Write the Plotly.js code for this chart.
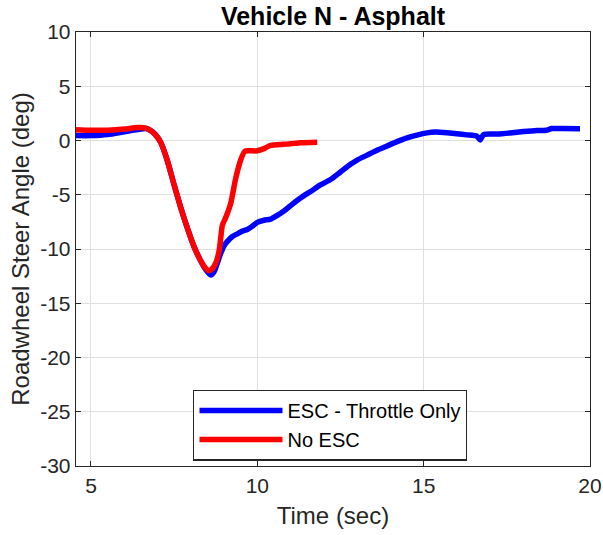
<!DOCTYPE html>
<html>
<head>
<meta charset="utf-8">
<script src="https://cdn.plot.ly/plotly-3.0.1.min.js"></script>
<style>html,body{margin:0;padding:0;background:#fff;}#chart{width:603px;height:535px;}</style>
</head>
<body>
<div id="chart"></div>
<script>
const escTime = [4.55,5.0,5.5,6.0,6.4,6.65,6.85,7.0,7.1,7.3,7.5,7.7,7.9,8.1,8.3,8.45,8.6,8.7,8.8,8.9,9.0,9.1,9.25,9.4,9.55,9.7,9.85,10.0,10.2,10.4,10.6,10.8,11.0,11.3,11.6,11.9,12.2,12.5,12.8,13.0,13.3,13.6,13.9,14.2,14.5,14.8,15.1,15.35,15.7,16.0,16.3,16.6,16.7,16.8,17.2,17.6,18.0,18.4,18.7,18.85,19.2,19.7];
const escAngle = [0.45,0.45,0.55,0.8,1.0,1.1,0.8,0.3,-0.2,-1.9,-4.1,-6.2,-8.1,-9.8,-11.1,-11.9,-12.4,-12.1,-11.3,-10.4,-9.7,-9.3,-8.85,-8.6,-8.35,-8.2,-7.9,-7.55,-7.35,-7.25,-6.9,-6.5,-6.0,-5.3,-4.7,-4.1,-3.6,-2.9,-2.2,-1.8,-1.35,-0.9,-0.5,-0.1,0.25,0.5,0.7,0.78,0.72,0.62,0.52,0.4,0.05,0.55,0.6,0.7,0.82,0.92,0.95,1.1,1.1,1.08];
const noEscTime = [4.55,5.0,5.5,6.0,6.4,6.65,6.85,7.0,7.1,7.3,7.5,7.7,7.9,8.1,8.3,8.45,8.55,8.65,8.75,8.85,8.9,8.95,9.05,9.2,9.35,9.5,9.62,9.75,10.0,10.2,10.4,10.8,11.0,11.3,11.8];
const noEscAngle = [1.0,0.95,0.95,1.05,1.2,1.15,0.8,0.3,-0.2,-1.9,-4.1,-6.2,-8.1,-9.8,-11.1,-11.8,-12.0,-11.8,-11.3,-10.2,-9.0,-7.8,-7.1,-5.8,-3.5,-1.8,-1.0,-0.95,-0.95,-0.75,-0.45,-0.35,-0.3,-0.2,-0.15];
const seriesNames = ["ESC - Throttle Only","No ESC"];
const xTicks = [5,10,15,20];
const yTicks = [10,5,0,-5,-10,-15,-20,-25,-30];

const font = "Liberation Sans, Arial, Helvetica, sans-serif";
const traces = [
  {x: escTime, y: escAngle, name: seriesNames[0], mode: "lines", line: {color: "#0000ff", width: 5.5, shape: "spline", smoothing: 0.6}},
  {x: noEscTime, y: noEscAngle, name: seriesNames[1], mode: "lines", line: {color: "#ff0000", width: 5.5, shape: "spline", smoothing: 0.6}}
];
const axisCommon = {
  showline: true, mirror: "ticks", linecolor: "#262626", linewidth: 1.3,
  ticks: "inside", ticklen: 5, tickcolor: "#262626",
  showgrid: true, gridcolor: "#dfdfdf", gridwidth: 1, zeroline: false,
  tickfont: {family: font, size: 21, color: "#262626"}
};
const layout = {
  width: 603, height: 535,
  margin: {l: 76, r: 13, t: 32, b: 69},
  paper_bgcolor: "#fff", plot_bgcolor: "#fff",
  title: {text: "<b>Vehicle N - Asphalt</b>", font: {family: font, size: 25, color: "#000"}, x: 0.5, xref: "paper", y: 0.97, yref: "container", yanchor: "middle"},
  xaxis: Object.assign({}, axisCommon, {range: [4.55, 20], tickvals: xTicks, ticktext: xTicks.map(String),
    title: {text: "Time (sec)", font: {family: font, size: 24, color: "#262626"}, standoff: 11}}),
  yaxis: Object.assign({}, axisCommon, {range: [-30, 10], tickvals: yTicks, ticktext: yTicks.map(String),
    title: {text: "Roadwheel Steer Angle (deg)", font: {family: font, size: 24, color: "#262626"}, standoff: 3}}),
  showlegend: true,
  legend: {x: 0.228, y: 0.176, xanchor: "left", yanchor: "top", bgcolor: "#fff", bordercolor: "#262626", borderwidth: 1.3,
    font: {family: font, size: 20, color: "#000"}, itemwidth: 83, tracegroupgap: 0}
};
Plotly.newPlot("chart", traces, layout, {displayModeBar: false, staticPlot: true});
</script>
</body>
</html>
